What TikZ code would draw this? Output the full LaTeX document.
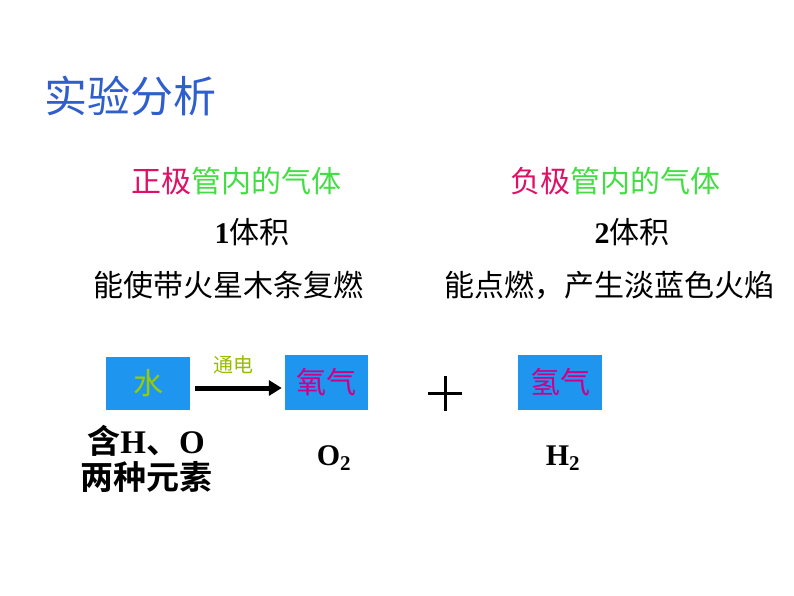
\documentclass[tikz,border=0pt]{standalone}
\usepackage{fontspec}
\setmainfont{Liberation Serif}
\newfontfamily\cjk{Noto Sans CJK SC}
\newfontfamily\cjkb{Noto Sans CJK SC Bold}
\usetikzlibrary{arrows.meta}
\definecolor{titleblue}{HTML}{2F5FCC}
\definecolor{poleRed}{HTML}{DD1166}
\definecolor{tubeGreen}{HTML}{44DD44}
\definecolor{boxBlue}{HTML}{1E96F0}
\definecolor{waterText}{HTML}{99CC00}
\definecolor{gasText}{HTML}{CC0088}
\definecolor{elecText}{HTML}{99BB00}
\tikzset{
  txt/.style={inner sep=0pt, anchor=center},
  chembox/.style={fill=boxBlue, draw=none, minimum width=83pt, minimum height=55pt, inner sep=0pt, font=\cjk\fontsize{30}{36}\selectfont},
  body/.style={txt, font=\cjk\fontsize{30}{36}\selectfont, text=black},
}
\begin{document}
\begin{tikzpicture}[x=1pt,y=-1pt]
\useasboundingbox (0,0) rectangle (794,596);
\node[txt, font=\cjk\fontsize{43}{50}\selectfont, text=titleblue] (title) at (130,96) {实验分析};
\node[body] (pos) at (236,181) {\textcolor{poleRed}{正极}\textcolor{tubeGreen}{管内的气体}};
\node[body] (neg) at (615,181) {\textcolor{poleRed}{负极}\textcolor{tubeGreen}{管内的气体}};
\node[body] (v1) at (252,232) {{\rmfamily\bfseries 1}体积};
\node[body] (v2) at (632,232) {{\rmfamily\bfseries 2}体积};
\node[body] (p1) at (228,285) {能使带火星木条复燃};
\node[body] (p2) at (609,285) {能点燃，产生淡蓝色火焰};
\node[chembox, minimum width=84pt, minimum height=53pt, text=waterText] (water) at (148,383.5) {水};
\node[chembox, text=gasText] (oxy) at (326.5,382.5) {氧气};
\node[chembox, minimum width=84pt, text=gasText] (hyd) at (560,382) {氢气};
\draw[line width=5pt, -{Triangle[length=13pt,width=15pt]}] (water.east |- 0,388) ++(5,0) coordinate (as) -- ([xshift=-3pt]oxy.west |- 0,388) coordinate (ae);
\node[txt, font=\cjk\fontsize{20}{24}\selectfont, text=elecText] (elec) at (233,365) {通电};
\coordinate (plus) at (445,393);
\draw[line width=3pt] ([xshift=-17pt]plus) -- ([xshift=17pt]plus);
\draw[line width=3pt] ([yshift=-18pt]plus) -- ([yshift=17pt]plus);
\node[txt, font=\cjkb\fontsize{33}{38}\selectfont] (ho) at (146,441) {含{\rmfamily\bfseries H}、{\rmfamily\bfseries O}};
\node[txt, font=\cjkb\fontsize{33}{38}\selectfont] (two) at (146,477) {两种元素};
\node[txt, font=\bfseries\fontsize{30}{36}\selectfont] (o2) at (334,458) {O$_{\mathbf 2}$};
\node[txt, font=\bfseries\fontsize{30}{36}\selectfont] (h2) at (563,458) {H$_{\mathbf 2}$};
\end{tikzpicture}
\end{document}
